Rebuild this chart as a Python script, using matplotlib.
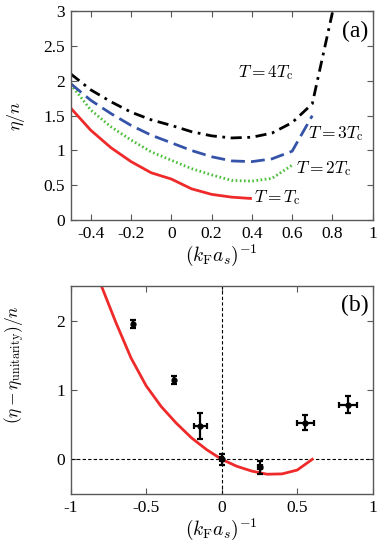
import matplotlib
matplotlib.use("Agg")
import matplotlib.pyplot as plt

plt.rcParams['font.family'] = ['Liberation Serif', 'DejaVu Serif']
plt.rcParams['mathtext.fontset'] = 'cm'

# Panel (a): eta/n vs (kF a_s)^-1
x_tc = [-0.5, -0.4, -0.3, -0.2, -0.1, 0.0, 0.1, 0.2, 0.3, 0.4]
y_tc = [1.61, 1.29, 1.04, 0.84, 0.68, 0.59, 0.45, 0.37, 0.33, 0.31]

x_2tc = [-0.5, -0.4, -0.3, -0.2, -0.1, 0.0, 0.1, 0.2, 0.3, 0.4, 0.5, 0.6]
y_2tc = [1.95, 1.58, 1.34, 1.15, 0.98, 0.86, 0.74, 0.65, 0.57, 0.56, 0.60, 0.79]

x_3tc = [-0.5, -0.4, -0.3, -0.2, -0.1, 0.0, 0.1, 0.2, 0.3, 0.4, 0.5, 0.6, 0.7]
y_3tc = [1.96, 1.72, 1.53, 1.36, 1.22, 1.11, 1.00, 0.91, 0.85, 0.84, 0.88, 0.99, 1.50]

x_4tc = [-0.5, -0.4, -0.3, -0.2, -0.1, 0.0, 0.1, 0.2, 0.3, 0.4, 0.5, 0.6, 0.7, 0.8]
y_4tc = [2.10, 1.87, 1.70, 1.55, 1.44, 1.36, 1.27, 1.21, 1.18, 1.19, 1.25, 1.40, 1.67, 2.98]

labels_a = ['$T = T_\\mathrm{c}$', '$T = 2T_\\mathrm{c}$', '$T = 3T_\\mathrm{c}$', '$T = 4T_\\mathrm{c}$']

# Panel (b): (eta - eta_unitarity)/n
x_th = [-0.8, -0.7, -0.6, -0.5, -0.4, -0.3, -0.2, -0.1, 0.0, 0.1, 0.2, 0.3, 0.4, 0.5, 0.6]
y_th = [2.52, 1.97, 1.46, 1.06, 0.76, 0.52, 0.31, 0.14, 0.0, -0.10, -0.17, -0.215, -0.21, -0.155, 0.0]

x_exp = [-0.59, -0.316, -0.142, 0.0, 0.254, 0.554, 0.838]
y_exp = [1.95, 1.14, 0.48, 0.0, -0.116, 0.53, 0.79]
yerr_exp = [0.06, 0.06, 0.19, 0.08, 0.09, 0.11, 0.12]
xerr_exp = [0.0, 0.0, 0.044, 0.01, 0.012, 0.058, 0.06]

fig = plt.figure(figsize=(3.82, 5.49), dpi=100)
ax1 = fig.add_axes([0.185, 0.599, 0.7906, 0.3807])
ax2 = fig.add_axes([0.185, 0.1002, 0.7906, 0.3789])

ax1.plot(x_tc, y_tc, color='#ee2a2a', lw=2.0, solid_capstyle='butt')
ax1.plot(x_2tc, y_2tc, color='#4cbf3a', lw=2.0, linestyle=(0, (0.6, 0.9)))
ax1.plot(x_3tc, y_3tc, color='#3553a8', lw=2.0, linestyle=(0, (5, 2.2)))
ax1.plot(x_4tc, y_4tc, color='black', lw=2.0, linestyle=(0, (4, 2, 1, 2)))

fs_lab = 12.5
ax1.text(0.41, 0.32, labels_a[0], fontsize=fs_lab, va='center', ha='left')
ax1.text(0.62, 0.74, labels_a[1], fontsize=fs_lab, va='center', ha='left')
ax1.text(0.68, 1.25, labels_a[2], fontsize=fs_lab, va='center', ha='left')
ax1.text(0.33, 2.12, labels_a[3], fontsize=fs_lab, va='center', ha='left')

ax1.set_xlim(-0.5, 1.0)
ax1.set_ylim(0, 3)
ax1.set_xticks([-0.4, -0.2, 0, 0.2, 0.4, 0.6, 0.8, 1.0])
ax1.set_xticklabels(['-0.4', '-0.2', '0', '0.2', '0.4', '0.6', '0.8', '1'])
ax1.set_yticks([0, 0.5, 1, 1.5, 2, 2.5, 3])
ax1.set_yticklabels(['0', '0.5', '1', '1.5', '2', '2.5', '3'])
ax1.set_xlabel('$(k_\\mathrm{F}a_s)^{-1}$', fontsize=14, labelpad=1)
ax1.set_ylabel('$\\eta/n$', fontsize=13)
ax1.yaxis.set_label_coords(-0.145, 0.5)
ax1.text(0.985, 0.955, '(a)', transform=ax1.transAxes, fontsize=17, ha='right', va='top')

ax2.axhline(0, color='black', lw=0.8, linestyle=(0, (3, 2)))
ax2.axvline(0, color='black', lw=0.8, linestyle=(0, (3, 2)))
ax2.plot(x_th, y_th, color='#ee2a2a', lw=2.0)
ax2.errorbar(x_exp, y_exp, yerr=yerr_exp, xerr=xerr_exp, fmt='o', color='black',
             ms=3.5, elinewidth=1.6, capsize=2.5, capthick=1.6)

ax2.set_xlim(-1, 1)
ax2.set_ylim(-0.5, 2.5)
ax2.set_xticks([-1, -0.5, 0, 0.5, 1])
ax2.set_xticklabels(['-1', '-0.5', '0', '0.5', '1'])
ax2.set_yticks([0, 1, 2])
ax2.set_yticklabels(['0', '1', '2'])
ax2.set_xlabel('$(k_\\mathrm{F}a_s)^{-1}$', fontsize=14, labelpad=1)
ax2.set_ylabel('$(\\eta-\\eta_\\mathrm{unitarity})/n$', fontsize=12.5)
ax2.yaxis.set_label_coords(-0.145, 0.62)
ax2.text(0.985, 0.955, '(b)', transform=ax2.transAxes, fontsize=17, ha='right', va='top')

for ax in (ax1, ax2):
    ax.tick_params(direction='in', top=True, right=True, labelsize=12.5, length=4,
                   width=0.8, color='0.35', pad=4)
    for s in ax.spines.values():
        s.set_color('0.35')
        s.set_linewidth(1.0)

fig.savefig('out.png', dpi=100)
